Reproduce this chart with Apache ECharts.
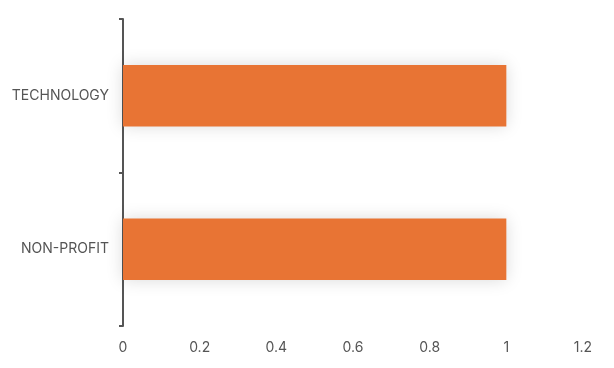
<!DOCTYPE html>
<html>
<head>
<meta charset="utf-8">
<script src="https://cdn.jsdelivr.net/npm/echarts@6/dist/echarts.min.js"></script>
<style>html,body{margin:0;padding:0;background:#fff}#c{width:614px;height:368px}</style>
</head>
<body>
<div id="c"></div>
<script>
const categories = ['NON-PROFIT', 'TECHNOLOGY'];
const values = [1, 1];
const xTicks = [0, 0.2, 0.4, 0.6, 0.8, 1, 1.2];

const chart = echarts.init(document.getElementById('c'), null, {renderer: 'canvas'});
chart.setOption({
  animation: false,
  grid: {left: 123, right: 31, top: 19, bottom: 42, containLabel: false},
  xAxis: {
    type: 'value',
    min: xTicks[0],
    max: xTicks[xTicks.length - 1],
    interval: 0.2,
    axisLine: {show: false},
    axisTick: {show: false},
    splitLine: {show: false},
    axisLabel: {
      color: '#555',
      fontSize: 14,
      fontFamily: 'Inter, sans-serif',
      margin: 15,
      formatter: v => String(Math.round(v * 10) / 10)
    }
  },
  yAxis: {
    type: 'category',
    data: categories,
    axisLine: {show: true, lineStyle: {color: '#555', width: 2}},
    axisTick: {show: true, length: 4, lineStyle: {color: '#555', width: 2}},
    axisLabel: {color: '#555', fontSize: 14, fontFamily: 'Inter, sans-serif', margin: 14}
  },
  series: [{
    type: 'bar',
    data: values,
    barWidth: '40%',
    itemStyle: {
      color: '#E87434',
      shadowColor: 'rgba(0,0,0,0.15)',
      shadowBlur: 16,
      shadowOffsetX: 0,
      shadowOffsetY: 0
    }
  }]
});
</script>
</body>
</html>
